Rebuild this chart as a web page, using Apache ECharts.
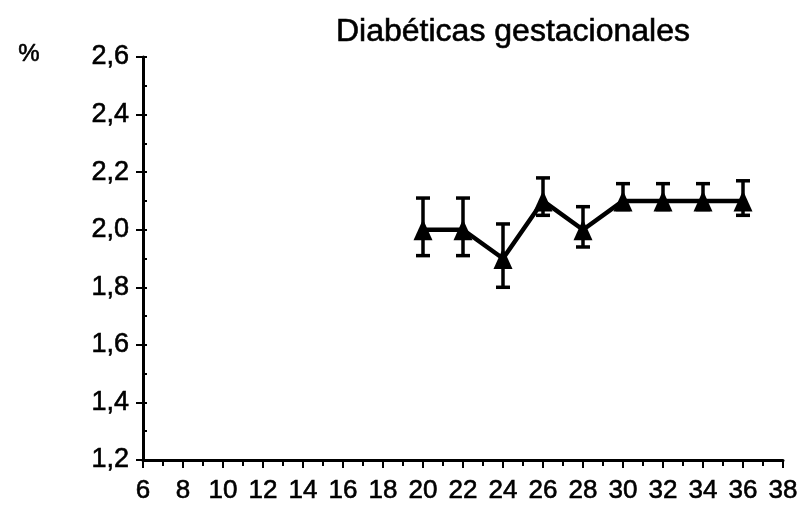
<!DOCTYPE html>
<html><head><meta charset="utf-8">
<script src="https://cdn.jsdelivr.net/npm/echarts@6/dist/echarts.min.js"></script>
<style>html,body{margin:0;padding:0;background:#fff}#c{width:802px;height:516px}</style>
</head><body><div id="c"></div>
<script>
const titleText = 'Diabéticas gestacionales';
const yUnit = '%';
const weeks = [20, 22, 24, 26, 28, 30, 32, 34, 36];
const values = [2.0, 2.0, 1.9, 2.1, 2.0, 2.1, 2.1, 2.1, 2.1];
const upper = [2.11, 2.11, 2.02, 2.18, 2.08, 2.16, 2.16, 2.16, 2.17];
const lower = [1.91, 1.91, 1.80, 2.05, 1.94, 2.07, 2.07, 2.07, 2.05];
const xMin = 6, xMax = 38, xStep = 2;
const yMin = 1.2, yMax = 2.6, yStep = 0.2;

const font = '"Liberation Sans", Arial, sans-serif';
const thick = {textBorderColor: '#000', textBorderWidth: 0.6};
const chart = echarts.init(document.getElementById('c'));
const lineData = weeks.map((w, i) => [w, values[i]]);
const errData = weeks.map((w, i) => [w, lower[i], upper[i]]);

chart.setOption({
  animation: false,
  backgroundColor: '#fff',
  title: {
    text: titleText, left: 508, top: 11, textAlign: 'center',
    textStyle: Object.assign({fontFamily: font, fontSize: 32, fontWeight: 'normal', color: '#000'}, thick)
  },
  graphic: [{type: 'text', left: 18, top: 42,
    style: Object.assign({text: yUnit, fontFamily: font, fontSize: 24, fill: '#000', stroke: '#000', lineWidth: 0.6})}],
  grid: {left: 143, right: 19, top: 57, bottom: 56},
  xAxis: {
    type: 'value', min: xMin, max: xMax, interval: xStep,
    axisLine: {lineStyle: {color: '#000', width: 3}},
    axisTick: {show: true, length: 8, lineStyle: {color: '#000', width: 2}},
    minorTick: {show: true, splitNumber: 2, length: 6, lineStyle: {color: '#000', width: 2}},
    splitLine: {show: false},
    axisLabel: Object.assign({color: '#000', fontFamily: font, fontSize: 26, margin: 18}, thick)
  },
  yAxis: [{
    type: 'value', min: yMin, max: yMax, interval: yStep,
    axisLine: {show: true, lineStyle: {color: '#000', width: 3}},
    axisTick: {show: true, length: 7, lineStyle: {color: '#000', width: 2}},
    splitLine: {show: false},
    axisLabel: Object.assign({color: '#000', fontFamily: font, fontSize: 27, margin: 14,
      formatter: v => v.toFixed(1).replace('.', ',')}, thick)
  }, {
    type: 'value', min: yMin, max: yMax, interval: yStep / 2, position: 'left',
    axisLine: {show: false},
    axisTick: {show: true, inside: true, length: 4, lineStyle: {color: '#000', width: 2}},
    axisLabel: {show: false}, splitLine: {show: false}
  }],
  series: [{
    type: 'custom',
    data: errData,
    z: 3,
    renderItem: function (params, api) {
      const x = api.value(0);
      const lo = api.coord([x, api.value(1)]);
      const hi = api.coord([x, api.value(2)]);
      const cw = 7;
      const st = {stroke: '#000', lineWidth: 3.5};
      return {type: 'group', children: [
        {type: 'line', shape: {x1: lo[0], y1: lo[1], x2: hi[0], y2: hi[1]}, style: st},
        {type: 'line', shape: {x1: lo[0] - cw, y1: lo[1], x2: lo[0] + cw, y2: lo[1]}, style: st},
        {type: 'line', shape: {x1: hi[0] - cw, y1: hi[1], x2: hi[0] + cw, y2: hi[1]}, style: st}
      ]};
    }
  }, {
    type: 'line', data: lineData, z: 4,
    symbol: 'triangle', symbolSize: [19, 21],
    lineStyle: {color: '#000', width: 4.5},
    itemStyle: {color: '#000', borderWidth: 0}
  }]
});
</script></body></html>
